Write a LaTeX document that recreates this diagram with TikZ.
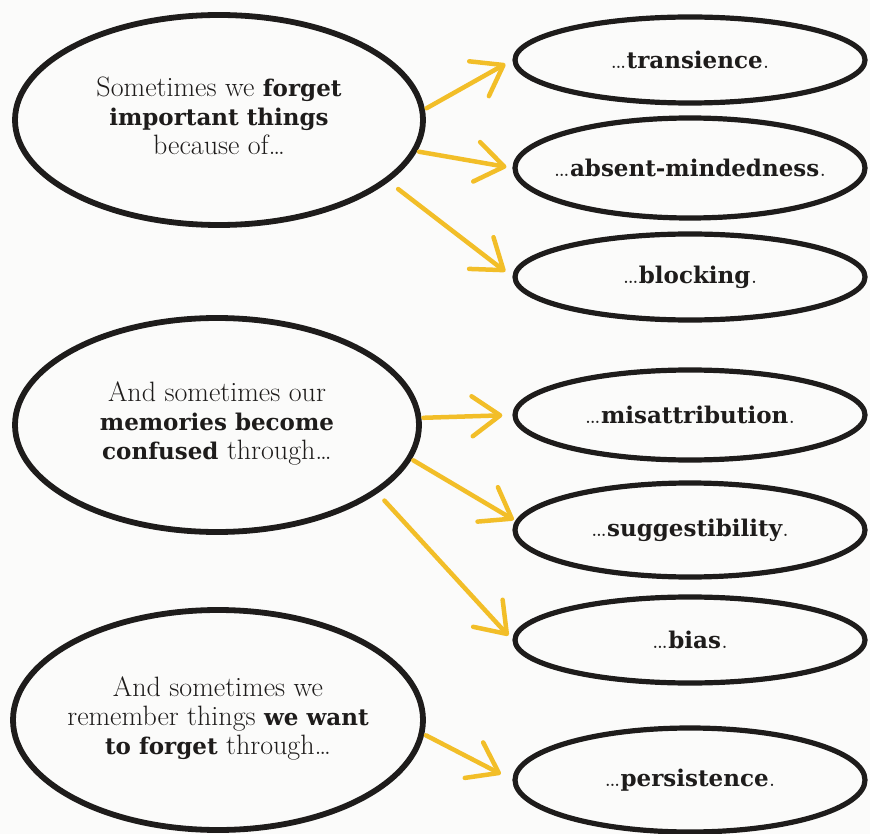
\documentclass[tikz,border=0pt]{standalone}
\usepackage{fontspec}
\newfontfamily\slab{DejaVu Serif}
\usetikzlibrary{shapes.geometric,arrows.meta}
\definecolor{arrowyellow}{RGB}{242,190,40}
\definecolor{paper}{RGB}{251,251,250}
\definecolor{ink}{RGB}{30,28,27}
\newcommand\hb[1]{{\slab\bfseries\fontsize{23}{29}\selectfont #1}}
\newcommand\ctr[1]{\makebox[0pt][c]{#1}}
\newcommand\ctrlines[1]{\makebox[0pt][c]{\begin{tabular}{@{}c@{}}#1\end{tabular}}}
\begin{document}
\begin{tikzpicture}[x=1pt,y=-1pt,
  bigoval/.style={ellipse, draw=ink, line width=5.8pt, inner sep=0pt,
    font=\fontsize{28}{29}\selectfont, text=ink},
  smalloval/.style={ellipse, draw=ink, line width=5.2pt, inner sep=0pt,
    font=\fontsize{28}{29}\selectfont, minimum width=350pt, text=ink},
  arr/.style={draw=arrowyellow, line width=4.5pt, line cap=round,
    -{Straight Barb[length=28pt,width=40pt,round]}}]
\useasboundingbox (0,0) rectangle (870,834);
\fill[paper] (0,0) rectangle (870,834);

\node[bigoval, minimum width=408pt, minimum height=210pt] (big1) at (219,120)
  {\ctrlines{Sometimes we \hb{forget}\\ \hb{important things}\\ because of\dots}};
\node[bigoval, minimum width=404pt, minimum height=214pt] (big2) at (217,425)
  {\raisebox{5pt}{\ctrlines{And sometimes our\\ \hb{memories become}\\ \hb{confused} through\dots}}};
\node[bigoval, minimum width=410pt, minimum height=220pt] (big3) at (218,720)
  {\raisebox{-3pt}{\ctrlines{And sometimes we\\ remember things \hb{we want}\\ \hb{to forget} through\dots}}};

\node[smalloval, minimum height=86pt]  (t1) at (690,60)  {\ctr{\dots\hb{transience}.}};
\node[smalloval, minimum height=100pt] (t2) at (690,168) {\ctr{\dots\hb{absent-mindedness}.}};
\node[smalloval, minimum height=86pt]  (t3) at (690,277) {\ctr{\dots\hb{blocking}.}};
\node[smalloval, minimum height=90pt]  (t4) at (690,415) {\ctr{\dots\hb{misattribution}.}};
\node[smalloval, minimum height=94pt]  (t5) at (690,530) {\ctr{\dots\hb{suggestibility}.}};
\node[smalloval, minimum height=86pt]  (t6) at (690,640) {\ctr{\dots\hb{bias}.}};
\node[smalloval, minimum height=104pt] (t7) at (690,780) {\ctr{\dots\hb{persistence}.}};

\draw[arr, shorten <=2pt, shorten >=8pt] (big1.3) -- (t1.west);
\draw[arr, shorten <=2pt, shorten >=6pt] (big1.-9) -- (t2.west);
\draw[arr, shorten <=12pt, shorten >=9pt] (big1.-20) -- (t3.west);
\draw[arr, shorten <=2pt, shorten >=10pt] (big2.2) -- (t4.west);
\draw[arr, shorten <=2pt, shorten >=2pt] (big2.-10) -- (t5.177);
\draw[arr, shorten <=10pt, shorten >=6pt] (big2.-23) -- (t6.west);
\draw[arr, shorten <=2pt, shorten >=13pt] (big3.-4) -- (t7.west);
\end{tikzpicture}
\end{document}
